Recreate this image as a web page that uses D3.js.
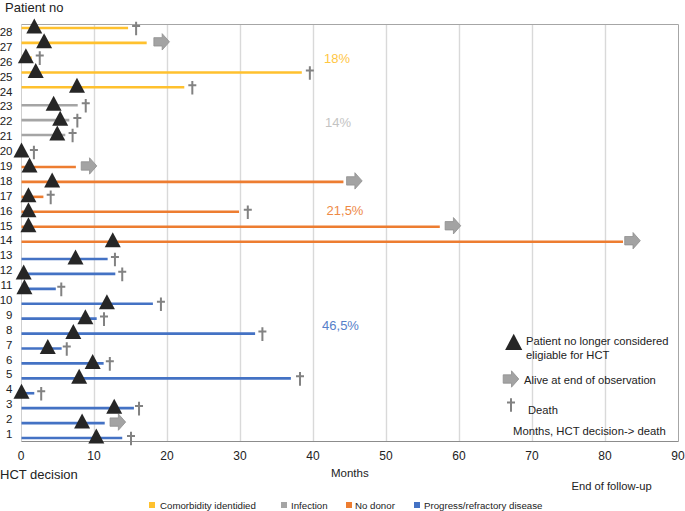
<!DOCTYPE html>
<html><head><meta charset="utf-8">
<script src="https://cdn.jsdelivr.net/npm/d3@7/dist/d3.min.js"></script>
<style>html,body{margin:0;padding:0;background:#fff}svg{display:block}text{font-family:"Liberation Sans",Arial,sans-serif;fill:#222}</style>
</head><body><svg id="c" width="685" height="511"></svg>
<script>
const patients = d3.range(1, 29);
const groupNames = ["Comorbidity identidied","Infection","No donor","Progress/refractory disease"];
const groupColors = ["#FFC12E","#A5A5A5","#ED7D31","#4472C4"];
const groupOfPatient = [3,3,3,3,3,3,3,3,3,3,3,3,3,2,2,2,2,2,2,1,1,1,1,0,0,0,0,0];
const lineEnd = [13.8,11.4,15.4,1.75,36.9,11.25,5.5,32,10.3,18,4.7,12.85,11.8,82.4,57.3,29.8,3,44.1,7.45,0,6,6.55,7.7,22.3,38.4,1.4,17.15,14.6];
const ineligibleAt = [10.25,8.3,12.7,0,7.9,9.75,3.6,7.1,8.75,11.7,0.4,0.3,7.4,12.5,0.95,0.95,0.95,4.2,1.1,0,4.9,5.3,4.4,7.6,1.95,0.6,3.1,1.75];
const outcomeAt = [15,13.2,16.1,2.7,38.15,12.1,6.2,33,11.3,19.1,5.45,13.8,12.8,83.7,59.1,31,4,45.6,9.25,1.7,7,7.65,8.8,23.4,39.5,2.5,19.2,15.7];
const outcome = ["d","a","d","d","d","d","d","d","d","d","d","d","d","a","a","d","d","a","a","d","d","d","d","d","d","d","a","d"];
const xTicks = [0,10,20,30,40,50,60,70,80,90];
const shares = ["18%","14%","21,5%","46,5%"];

const svg = d3.select("#c");
const x = d3.scaleLinear().domain([0,90]).range([21.5,678.5]);
// rows are grouped with small gaps between the blocks
const y = d3.scaleLinear().domain([1,13,14,20,21,23,24,28]).range([438,259,241.7,152,135,105.3,87.3,28]);
const yLabel = d3.scaleLinear().domain([1,28]).range([434,32]);
const plotBottom = 441.5, plotTop = 24.5;

// frame and grid
svg.append("g").selectAll("line").data(xTicks.slice(1,-1)).join("line")
  .attr("x1",d=>x(d)).attr("x2",d=>x(d)).attr("y1",plotTop).attr("y2",plotBottom)
  .attr("stroke","#d9d9d9").attr("stroke-width",1.4);
svg.append("line").attr("x1",x(0)).attr("x2",x(0)).attr("y1",plotTop).attr("y2",plotBottom).attr("stroke","#cfcfcf");
svg.append("line").attr("x1",x(90)).attr("x2",x(90)).attr("y1",plotTop).attr("y2",plotBottom).attr("stroke","#a6a6a6");
svg.append("line").attr("x1",x(0)).attr("x2",x(90)).attr("y1",plotTop).attr("y2",plotTop).attr("stroke","#a6a6a6");
svg.append("line").attr("x1",x(0)).attr("x2",x(90)).attr("y1",plotBottom).attr("y2",plotBottom).attr("stroke","#8c8c8c");

// x tick labels
const xLabelPos = d3.scaleLinear().domain([0,90]).range([21,678]);
svg.append("g").selectAll("text").data(xTicks).join("text")
  .attr("x",d=>xLabelPos(d)).attr("y",460).attr("text-anchor","middle").attr("font-size",12).text(d=>d);
// y tick labels
svg.append("g").selectAll("text").data(patients).join("text")
  .attr("x",12.5).attr("y",d=>yLabel(d)+4).attr("text-anchor","end").attr("font-size",11.5).text(d=>d);

// bars
svg.append("g").selectAll("line").data(patients).join("line")
  .attr("x1",x(0)).attr("x2",(d,i)=>x(lineEnd[i])).attr("y1",d=>y(d)).attr("y2",d=>y(d))
  .attr("stroke",(d,i)=>groupColors[groupOfPatient[i]]).attr("stroke-width",2.6);

// marker shapes, centred on the origin
const triPath = "M0,-9.5L8,5.5L-8,5.5Z";
const arrowPath = "M-7.8,-4.2H0.5V-8.2L7.8,0L0.5,8.2V4.2H-7.8Z";
const daggerPath = "M0,-6.8V6.8M-4,-2.6H4";
const drawDagger = (g,px,py)=>g.append("path").attr("d",daggerPath).attr("transform",`translate(${px},${py})`)
  .attr("fill","none").attr("stroke","#828282").attr("stroke-width",2);
const drawArrow = (g,px,py)=>g.append("path").attr("d",arrowPath).attr("transform",`translate(${px},${py})`)
  .attr("fill","#a3a3a3").attr("stroke","#8f8f8f").attr("stroke-width",0.8);
const drawTri = (g,px,py,s)=>g.append("path").attr("d",triPath).attr("transform",`translate(${px},${py}) scale(${s||1})`)
  .attr("fill","#262626");

const gOut = svg.append("g");
patients.forEach((d,i)=>{
  if(outcome[i]==="d") drawDagger(gOut,x(outcomeAt[i]),y(d)+0.5);
  else drawArrow(gOut,x(outcomeAt[i]),y(d)-1);
});
const gTri = svg.append("g");
patients.forEach((d,i)=>drawTri(gTri,x(ineligibleAt[i]),y(d)));

// share labels
const shareX = [337,338,345,340.5], shareY = [62.5,127,214.5,330];
const shareCol = ["#FFC12E","#BDBDBD","#ED7D31","#4472C4"];
svg.append("g").selectAll("text").data(shares).join("text")
  .attr("x",(d,i)=>shareX[i]).attr("y",(d,i)=>shareY[i]).attr("text-anchor","middle")
  .attr("font-size",13).style("fill",(d,i)=>shareCol[i]).attr("opacity",0.9).text(d=>d);

// free text
const t=(s,px,py,fs)=>svg.append("text").attr("x",px).attr("y",py).attr("font-size",fs).text(s);
t("Patient no",5,12,13);
t("HCT decision",0,478.5,13);
t("Months",331,477,11.5);
t("End of follow-up",571.5,490,11.2);
t("Patient no longer considered",526,345,11.2);
t("eligiable for HCT",526,358.5,11.2);
t("Alive at end of observation",524,384,11.2);
t("Death",528,414,11.2);
t("Months, HCT decision-> death",513,435,11.3);

// key symbols
drawTri(svg,513.7,344,1.07);
drawArrow(svg,511,379);
drawDagger(svg,511,405);

// bottom legend
const legX=[149,281,346,414];
const lg=svg.append("g").selectAll("g").data(groupNames).join("g");
lg.append("rect").attr("x",(d,i)=>legX[i]).attr("y",502).attr("width",6).attr("height",6).attr("fill",(d,i)=>groupColors[i]);
lg.append("text").attr("x",(d,i)=>legX[i]+(i==0?11:i==1?10:i==2?9:10)).attr("y",508.5).attr("font-size",9.7).text(d=>d);
</script></body></html>
